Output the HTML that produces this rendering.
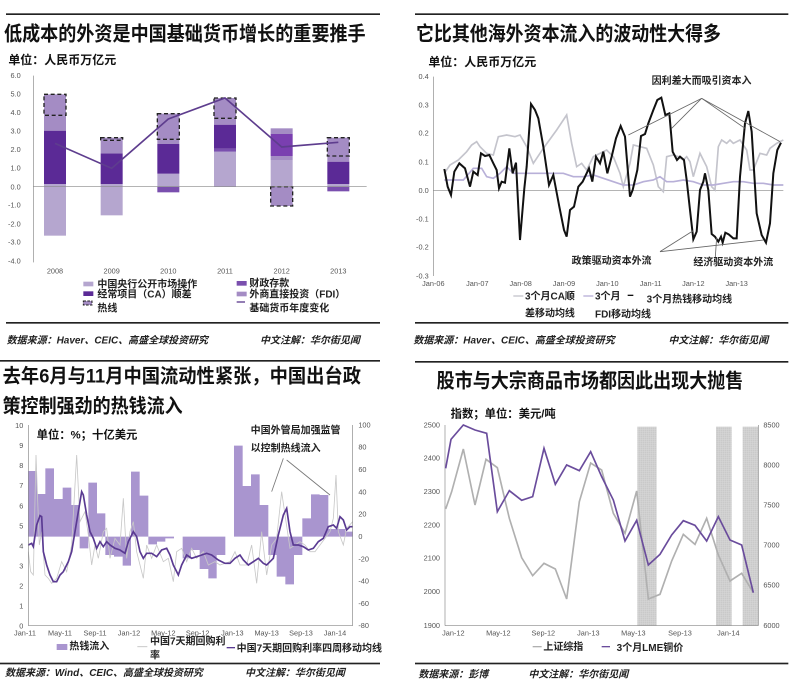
<!DOCTYPE html>
<html><head><meta charset="utf-8"><style>
html,body{margin:0;padding:0;background:#fff;}
svg{display:block;}
text{font-family:"Liberation Sans","Noto Sans CJK SC",sans-serif;}
.t{font-weight:bold;fill:#111;}
.tk{font-size:22px;fill:#555;}
.lg{font-size:30px;font-weight:bold;fill:#222;}
.src{font-size:30px;font-weight:bold;font-style:italic;fill:#222;}
</style></head><body>
<svg width="800" height="688" viewBox="0 0 800 688" xmlns="http://www.w3.org/2000/svg">
<defs>
<pattern id="grid" width="6" height="6" patternUnits="userSpaceOnUse">
<rect width="6" height="6" fill="#c9c9c9"/><path d="M0 0H6M0 0V6" stroke="#e8e8e8" stroke-width="1.2"/>
</pattern>
</defs>

<!-- Chart 1 -->
<g transform="scale(0.33333)">
<rect x="18" y="40" width="1122" height="5" fill="#222"/>
<text class="t" x="12" y="122" font-size="60" textLength="1085" lengthAdjust="spacingAndGlyphs">低成本的外资是中国基础货币增长的重要推手</text>
<text class="t" x="25" y="192" font-size="36">单位：人民币万亿元</text>
<g class="tk" text-anchor="end">
<text x="62" y="234">6.0</text><text x="62" y="290">5.0</text><text x="62" y="345">4.0</text><text x="62" y="401">3.0</text><text x="62" y="456">2.0</text><text x="62" y="512">1.0</text><text x="62" y="568">0.0</text><text x="62" y="623">-1.0</text><text x="62" y="679">-2.0</text><text x="62" y="734">-3.0</text><text x="62" y="790">-4.0</text>
</g>
<line x1="100" y1="227" x2="100" y2="787" stroke="#888" stroke-width="2"/>
<g class="tk" text-anchor="middle"><text x="165" y="820">2008</text><text x="335" y="820">2009</text><text x="505" y="820">2010</text><text x="675" y="820">2011</text><text x="845" y="820">2012</text><text x="1015" y="820">2013</text></g>
<!-- 2008 -->
<rect x="132" y="560" width="66" height="147" fill="#b5a6cf"/>
<rect x="132" y="552" width="66" height="8" fill="#b5a6cf"/>
<rect x="132" y="392" width="66" height="160" fill="#5b2a96"/>
<rect x="132" y="346" width="66" height="46" fill="#a48cc4"/>
<rect x="132" y="283" width="66" height="63" fill="#a48cc4" stroke="#222" stroke-width="4" stroke-dasharray="12,8"/>
<!-- 2009 -->
<rect x="302" y="560" width="66" height="86" fill="#b5a6cf"/>
<rect x="302" y="552" width="66" height="8" fill="#b5a6cf"/>
<rect x="302" y="460" width="66" height="92" fill="#5b2a96"/>
<rect x="302" y="421" width="66" height="39" fill="#a48cc4"/>
<rect x="302" y="413" width="66" height="8" fill="#a48cc4" stroke="#222" stroke-width="4" stroke-dasharray="12,8"/>
<!-- 2010 -->
<rect x="472" y="560" width="66" height="17" fill="#7a4fae"/>
<rect x="472" y="521" width="66" height="39" fill="#b5a6cf"/>
<rect x="472" y="432" width="66" height="89" fill="#5b2a96"/>
<rect x="472" y="418" width="66" height="14" fill="#a48cc4"/>
<rect x="472" y="341" width="66" height="77" fill="#a48cc4" stroke="#222" stroke-width="4" stroke-dasharray="12,8"/>
<!-- 2011 -->
<rect x="642" y="455" width="66" height="105" fill="#b5a6cf"/>
<rect x="642" y="446" width="66" height="9" fill="#7a4fae"/>
<rect x="642" y="374" width="66" height="72" fill="#5b2a96"/>
<rect x="642" y="355" width="66" height="19" fill="#a48cc4"/>
<rect x="642" y="294" width="66" height="61" fill="#a48cc4" stroke="#222" stroke-width="4" stroke-dasharray="12,8"/>
<!-- 2012 -->
<rect x="812" y="480" width="66" height="80" fill="#b5a6cf"/>
<rect x="812" y="468" width="66" height="12" fill="#a48cc4"/>
<rect x="812" y="402" width="66" height="66" fill="#7a3fb0"/>
<rect x="812" y="385" width="66" height="17" fill="#a48cc4"/>
<rect x="812" y="560" width="66" height="58" fill="#a48cc4" stroke="#222" stroke-width="4" stroke-dasharray="12,8"/>
<!-- 2013 -->
<rect x="982" y="560" width="66" height="14" fill="#7a4fae"/>
<rect x="982" y="552" width="66" height="8" fill="#b5a6cf"/>
<rect x="982" y="485" width="66" height="67" fill="#5b2a96"/>
<rect x="982" y="468" width="66" height="17" fill="#a48cc4"/>
<rect x="982" y="413" width="66" height="55" fill="#a48cc4" stroke="#222" stroke-width="4" stroke-dasharray="12,8"/>
<line x1="100" y1="560" x2="1100" y2="560" stroke="#888" stroke-width="2"/>
<polyline points="165,430 335,505 505,357 675,294 845,441 1015,427" fill="none" stroke="#5e3d8e" stroke-width="5"/>
<!-- legend -->
<rect x="250" y="845" width="30" height="14" fill="#b5a6cf"/>
<rect x="250" y="874" width="30" height="14" fill="#5b2a96"/>
<rect x="250" y="903" width="26" height="12" fill="#a48cc4" stroke="#222" stroke-width="3" stroke-dasharray="8,4"/>
<text class="lg" x="292" y="862">中国央行公开市场操作</text>
<text class="lg" x="292" y="892">经常项目（CA）顺差</text>
<text class="lg" x="292" y="935">热线</text>
<rect x="710" y="843" width="30" height="14" fill="#7a4fae"/>
<rect x="710" y="875" width="30" height="14" fill="#a48cc4"/>
<line x1="710" y1="906" x2="735" y2="906" stroke="#5e3d8e" stroke-width="4"/>
<text class="lg" x="748" y="860">财政存款</text>
<text class="lg" x="748" y="893">外商直接投资（FDI）</text>
<text class="lg" x="748" y="935">基础货币年度变化</text>
<rect x="18" y="966" width="1122" height="5" fill="#222"/>
<text class="src" x="20" y="1030">数据来源：Haver、CEIC、高盛全球投资研究</text>
<text class="src" x="780" y="1030">中文注解：华尔街见闻</text>
</g>

<!-- Chart 2 -->
<g transform="translate(400,0) scale(0.33333)">
<rect x="45" y="40" width="1120" height="5" fill="#222"/>
<text class="t" x="48" y="122" font-size="60" textLength="915" lengthAdjust="spacingAndGlyphs">它比其他海外资本流入的波动性大得多</text>
<text class="t" x="85" y="198" font-size="36">单位：人民币万亿元</text>
<g class="tk" text-anchor="end">
<text x="86" y="237">0.4</text><text x="86" y="322">0.3</text><text x="86" y="407">0.2</text><text x="86" y="494">0.1</text><text x="86" y="579">0.0</text><text x="86" y="664">-0.1</text><text x="86" y="749">-0.2</text><text x="86" y="835">-0.3</text>
</g>
<line x1="100" y1="230" x2="100" y2="828" stroke="#888" stroke-width="2"/>
<line x1="100" y1="572" x2="1150" y2="572" stroke="#888" stroke-width="2"/>
<g class="tk" text-anchor="middle"><text x="100" y="858">Jan-06</text><text x="232" y="858">Jan-07</text><text x="362" y="858">Jan-08</text><text x="492" y="858">Jan-09</text><text x="622" y="858">Jan-10</text><text x="752" y="858">Jan-11</text><text x="880" y="858">Jan-12</text><text x="1010" y="858">Jan-13</text></g>
<polyline fill="none" stroke="#c4c4cc" stroke-width="5" points="133,520 150,495 175,480 200,455 215,435 230,425 240,440 260,460 280,465 295,410 320,405 345,410 360,405 380,440 400,490 430,445 470,390 500,345 515,430 530,500 545,490 560,510 580,470 600,460 620,450 640,470 660,520 670,560 690,490 700,435 720,440 740,445 760,495 775,560 790,575 800,470 820,465 835,470 850,480 860,470 870,485 880,530 900,460 920,500 935,560 945,570 955,440 965,420 980,430 990,420 1000,430 1020,420 1040,450 1050,510 1060,510 1080,460 1100,465 1110,445 1130,430 1150,420"/>
<polyline fill="none" stroke="#b8b0d8" stroke-width="5" points="133,540 160,540 190,540 220,505 245,505 260,530 280,535 300,520 320,500 340,520 370,520 400,520 430,520 460,520 490,520 520,530 550,530 580,525 610,535 640,545 670,555 700,555 730,545 760,540 780,530 800,545 820,545 850,540 880,545 910,555 940,555 970,550 1000,545 1030,545 1060,550 1090,550 1120,555 1150,555"/>
<polyline fill="none" stroke="#111" stroke-width="6" points="133,507 143,560 153,585 163,515 178,490 195,505 210,560 220,515 233,525 243,460 255,468 268,465 280,490 290,510 297,565 305,545 315,548 328,445 338,520 348,488 360,720 373,565 380,500 393,312 405,330 415,355 430,440 447,555 460,525 478,620 492,690 500,710 510,630 522,620 535,560 548,545 567,505 577,545 588,470 600,490 610,455 622,520 635,470 648,415 662,378 675,410 690,590 698,570 712,510 723,408 735,402 745,370 760,330 772,300 784,293 796,345 808,340 818,455 831,480 840,470 852,480 860,540 870,630 880,718 890,695 900,570 910,545 915,520 925,570 935,702 945,710 955,725 963,710 968,728 976,698 986,703 1000,715 1010,715 1020,530 1035,370 1045,333 1055,395 1070,640 1085,705 1098,728 1110,670 1120,520 1132,450 1143,428"/>
<g stroke="#666" stroke-width="2.5" fill="none">
<line x1="905" y1="295" x2="685" y2="405"/><line x1="905" y1="295" x2="815" y2="385"/><line x1="905" y1="295" x2="1035" y2="385"/><line x1="905" y1="295" x2="1140" y2="425"/>
<line x1="780" y1="755" x2="880" y2="692"/><line x1="780" y1="755" x2="1090" y2="720"/><line x1="945" y1="785" x2="950" y2="712"/>
</g>
<text class="lg" x="755" y="252" font-size="32">因利差大而吸引资本入</text>
<text class="lg" x="515" y="792" font-size="32">政策驱动资本外流</text>
<text class="lg" x="880" y="797" font-size="32">经济驱动资本外流</text>
<line x1="340" y1="888" x2="370" y2="888" stroke="#c4c4cc" stroke-width="4"/>
<text class="lg" x="375" y="898">3个月CA顺</text><text class="lg" x="375" y="950">差移动均线</text>
<line x1="550" y1="888" x2="580" y2="888" stroke="#b8b0d8" stroke-width="4"/>
<text class="lg" x="585" y="898">3个月</text><text class="lg" x="585" y="952">FDI移动均线</text>
<line x1="683" y1="886" x2="700" y2="886" stroke="#111" stroke-width="4"/>
<text class="lg" x="740" y="908">3个月热钱移动均线</text>
<rect x="45" y="966" width="1120" height="5" fill="#222"/>
<text class="src" x="40" y="1030">数据来源：Haver、CEIC、高盛全球投资研究</text>
<text class="src" x="805" y="1030">中文注解：华尔街见闻</text>
</g>

<!-- Chart 3 -->
<g transform="translate(0,345) scale(0.33333)">
<rect x="0" y="45" width="1140" height="5" fill="#222"/>
<text class="t" x="8" y="112" font-size="58" textLength="1075" lengthAdjust="spacingAndGlyphs">去年6月与11月中国流动性紧张，中国出台政</text>
<text class="t" x="8" y="202" font-size="58" textLength="540" lengthAdjust="spacingAndGlyphs">策控制强劲的热钱流入</text>
<path fill="#a995cf" d="M85,575 L85,378 L111,378 L111,447 L136,447 L136,370 L162,370 L162,462 L188,462 L188,428 L214,428 L214,480 L239,480 L239,610 L265,610 L265,413 L291,413 L291,505 L316,505 L316,630 L342,630 L342,635 L368,635 L368,662 L393,662 L393,380 L419,380 L419,452 L445,452 L445,598 L471,598 L471,590 L496,590 L496,580 L522,580 L522,575 L548,575 L548,640 L573,640 L573,615 L599,615 L599,672 L625,672 L625,700 L650,700 L650,630 L676,630 L676,575 L702,575 L702,302 L728,302 L728,423 L753,423 L753,388 L779,388 L779,480 L805,480 L805,630 L830,630 L830,695 L856,695 L856,718 L882,718 L882,630 L907,630 L907,520 L933,520 L933,448 L959,448 L959,450 L985,450 L985,552 L1010,552 L1010,552 L1036,552 L1036,560 L1058,560 L1058,575 Z"/>
<polyline fill="none" stroke="#c8c8c8" stroke-width="2.5" points="85,620 92,680 100,690 108,330 118,600 125,560 135,690 145,700 155,715 170,700 185,650 200,680 215,600 230,330 240,530 255,500 265,570 275,660 285,600 295,640 310,560 320,550 330,640 345,580 360,600 370,460 380,640 390,560 400,530 410,620 420,660 430,700 440,600 455,640 470,600 490,650 505,640 520,710 530,620 545,610 560,650 575,610 590,640 610,620 625,660 645,650 660,660 690,650 705,620 720,660 740,660 755,600 770,715 785,560 800,690 815,600 830,580 845,440 858,530 870,610 885,600 900,590 915,600 930,620 945,620 960,600 975,580 990,560 1000,520 1008,390 1015,560 1030,600 1040,550 1058,530"/>
<polyline fill="none" stroke="#5a3a92" stroke-width="5" points="85,600 95,595 100,605 110,540 120,512 125,515 130,620 140,660 150,690 160,710 170,710 180,690 190,680 205,650 215,620 225,560 235,500 245,440 250,450 260,510 270,560 280,580 290,610 300,590 310,605 320,590 330,600 345,610 360,615 375,625 385,590 400,560 410,575 420,620 430,640 440,625 455,625 470,635 485,615 500,610 510,630 520,660 535,690 545,660 560,630 575,640 590,635 605,630 620,625 635,630 655,645 675,655 690,655 705,640 720,630 730,645 745,660 760,650 775,640 790,655 800,660 810,650 820,640 835,570 850,510 860,490 870,560 880,600 895,600 910,605 925,615 940,610 955,590 970,580 985,545 1000,540 1010,550 1020,515 1030,525 1040,555 1050,545 1058,545"/>
<line x1="85" y1="240" x2="85" y2="842" stroke="#888" stroke-width="2"/>
<line x1="1058" y1="240" x2="1058" y2="842" stroke="#888" stroke-width="2"/>
<line x1="85" y1="842" x2="1058" y2="842" stroke="#888" stroke-width="2"/>
<g class="tk" text-anchor="end">
<text x="70" y="249">10</text><text x="70" y="309">9</text><text x="70" y="369">8</text><text x="70" y="429">7</text><text x="70" y="490">6</text><text x="70" y="550">5</text><text x="70" y="610">4</text><text x="70" y="670">3</text><text x="70" y="730">2</text><text x="70" y="791">1</text><text x="70" y="851">0</text>
</g>
<g class="tk"><text x="1075" y="247">100</text><text x="1075" y="314">80</text><text x="1075" y="381">60</text><text x="1075" y="448">40</text><text x="1075" y="515">20</text><text x="1075" y="582">0</text><text x="1075" y="649">-20</text><text x="1075" y="716">-40</text><text x="1075" y="783">-60</text><text x="1075" y="849">-80</text></g>
<g class="tk" text-anchor="middle"><text x="75" y="872">Jan-11</text><text x="180" y="872">May-11</text><text x="285" y="872">Sep-11</text><text x="387" y="872">Jan-12</text><text x="490" y="872">May-12</text><text x="593" y="872">Sep-12</text><text x="697" y="872">Jan-13</text><text x="800" y="872">May-13</text><text x="903" y="872">Sep-13</text><text x="1005" y="872">Jan-14</text></g>
<text class="t" x="110" y="280" font-size="34">单位：%；十亿美元</text>
<text class="lg" x="752" y="265">中国外管局加强监管</text>
<text class="lg" x="752" y="320">以控制热线流入</text>
<g stroke="#777" stroke-width="2.5"><line x1="850" y1="340" x2="815" y2="440"/><line x1="860" y1="345" x2="990" y2="450"/></g>
<rect x="170" y="897" width="32" height="18" fill="#a995cf"/>
<text class="lg" x="208" y="914">热钱流入</text>
<line x1="412" y1="905" x2="442" y2="905" stroke="#c8c8c8" stroke-width="3"/>
<text class="lg" x="450" y="899">中国7天期回购利</text><text class="lg" x="450" y="940">率</text>
<line x1="680" y1="908" x2="705" y2="908" stroke="#5a3a92" stroke-width="4"/>
<text class="lg" x="710" y="920">中国7天期回购利率四周移动均线</text>
<rect x="0" y="953" width="1140" height="5" fill="#222"/>
<text class="src" x="15" y="993">数据来源：Wind、CEIC、高盛全球投资研究</text>
<text class="src" x="735" y="993">中文注解：华尔街见闻</text>
</g>

<!-- Chart 4 -->
<g transform="translate(400,345) scale(0.33333)">
<rect x="45" y="48" width="1120" height="5" fill="#222"/>
<text class="t" x="110" y="127" font-size="60" textLength="920" lengthAdjust="spacingAndGlyphs">股市与大宗商品市场都因此出现大抛售</text>
<text class="t" x="152" y="218" font-size="34">指数；单位：美元/吨</text>
<rect x="712" y="245" width="58" height="597" fill="url(#grid)"/>
<rect x="948" y="245" width="47" height="597" fill="url(#grid)"/>
<rect x="1028" y="245" width="47" height="597" fill="url(#grid)"/>
<line x1="135" y1="240" x2="135" y2="842" stroke="#888" stroke-width="2"/>
<line x1="1075" y1="240" x2="1075" y2="842" stroke="#888" stroke-width="2"/>
<line x1="135" y1="842" x2="1075" y2="842" stroke="#888" stroke-width="2"/>
<g class="tk" text-anchor="end"><text x="120" y="247">2500</text><text x="120" y="347">2400</text><text x="120" y="447">2300</text><text x="120" y="547">2200</text><text x="120" y="647">2100</text><text x="120" y="747">2000</text><text x="120" y="849">1900</text></g>
<g class="tk"><text x="1090" y="247">8500</text><text x="1090" y="367">8000</text><text x="1090" y="487">7500</text><text x="1090" y="607">7000</text><text x="1090" y="727">6500</text><text x="1090" y="849">6000</text></g>
<g class="tk" text-anchor="middle"><text x="160" y="872">Jan-12</text><text x="295" y="872">May-12</text><text x="430" y="872">Sep-12</text><text x="565" y="872">Jan-13</text><text x="700" y="872">May-13</text><text x="840" y="872">Sep-13</text><text x="985" y="872">Jan-14</text></g>
<polyline fill="none" stroke="#b0b0b0" stroke-width="5" points="137,492 155,440 190,312 225,480 258,343 292,368 328,520 365,638 398,692 432,655 466,672 500,762 538,470 572,354 605,375 640,505 675,565 710,438 745,762 780,748 815,648 850,568 885,598 920,520 955,630 990,708 1025,685 1060,743"/>
<polyline fill="none" stroke="#6a4c9c" stroke-width="5" points="137,370 153,283 190,240 225,255 260,265 292,500 328,437 365,466 398,455 432,310 466,418 500,360 538,377 572,320 605,395 640,465 675,588 710,526 745,660 780,628 815,570 850,527 885,541 920,588 955,515 990,585 1025,600 1060,743"/>
<line x1="398" y1="905" x2="425" y2="905" stroke="#b0b0b0" stroke-width="4"/>
<text class="lg" x="430" y="915">上证综指</text>
<line x1="605" y1="905" x2="630" y2="905" stroke="#6a4c9c" stroke-width="4"/>
<text class="lg" x="650" y="918">3个月LME铜价</text>
<rect x="45" y="953" width="1120" height="5" fill="#222"/>
<text class="src" x="55" y="998">数据来源：彭博</text>
<text class="src" x="385" y="998">中文注解：华尔街见闻</text>
</g>
</svg>
</body></html>
